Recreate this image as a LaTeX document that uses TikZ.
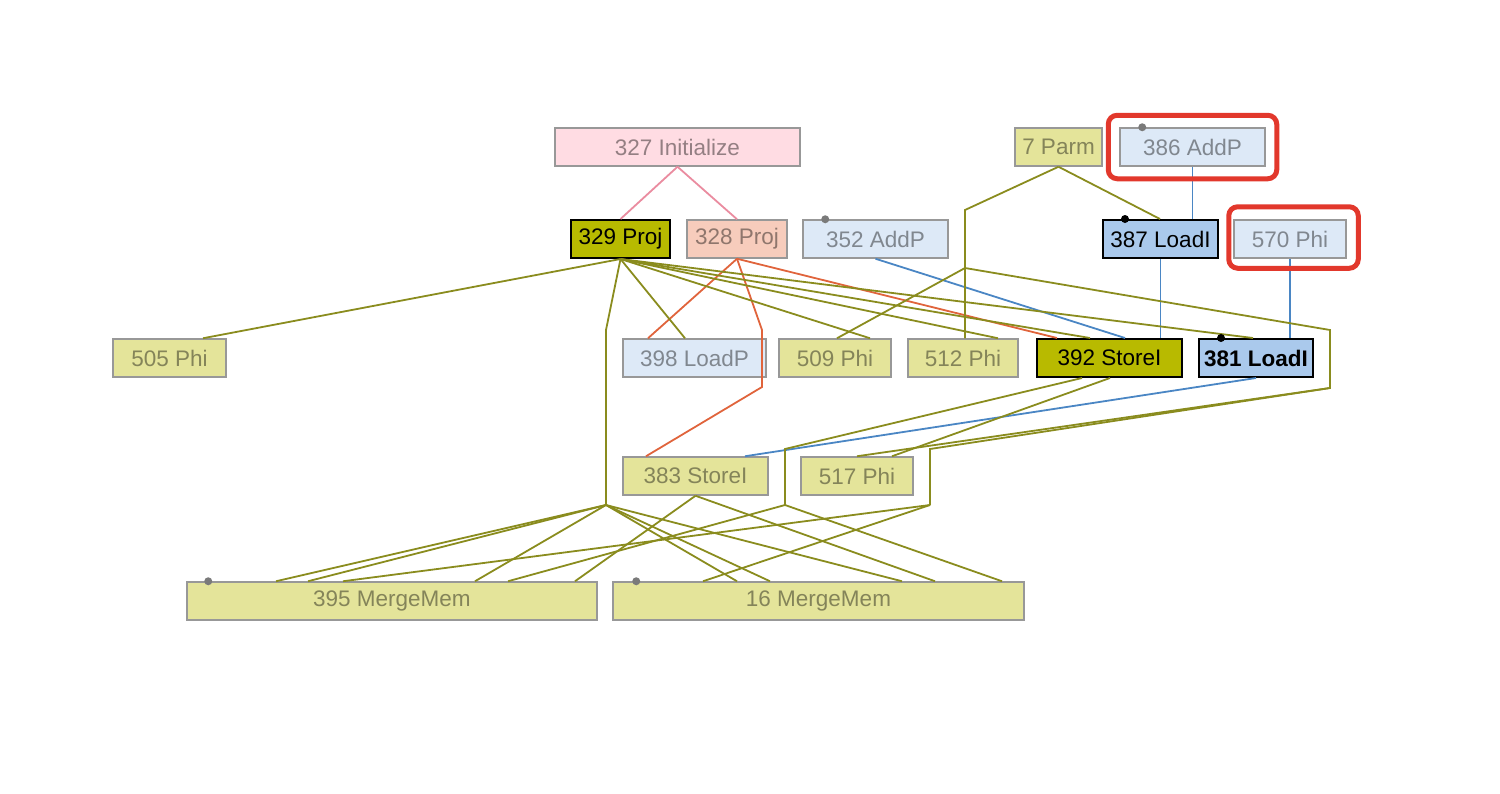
\documentclass[tikz,border=0pt]{standalone}
\usepackage{fontspec}
\setmainfont{Liberation Sans}
\usetikzlibrary{fit}
\definecolor{olivefill}{RGB}{228,228,154}
\definecolor{olivedark}{RGB}{184,186,0}
\definecolor{pinkfill}{RGB}{255,220,227}
\definecolor{salmonfill}{RGB}{247,204,188}
\definecolor{bluefill}{RGB}{221,233,247}
\definecolor{bluemid}{RGB}{170,201,236}
\definecolor{boxgray}{RGB}{152,152,152}
\definecolor{edgeolive}{RGB}{138,140,30}
\definecolor{edgepink}{RGB}{234,140,160}
\definecolor{edgeblue}{RGB}{74,134,196}
\definecolor{edgered}{RGB}{224,100,60}
\definecolor{hired}{RGB}{226,56,44}

\begin{document}
\begin{tikzpicture}[x=1pt, y=-1pt,
  nd/.style={draw=boxgray, line width=1.5pt, minimum height=38pt, inner sep=0pt, text=black, text opacity=0.42, font=\fontsize{22.5}{26}\selectfont},
  ol/.style={nd, fill=olivefill},
  bl/.style={nd, fill=bluefill},
  sel/.style={draw=black, line width=2pt, text opacity=1},
  oe/.style={draw=edgeolive, line width=1.8pt},
  be/.style={draw=edgeblue, line width=1.8pt},
  re/.style={draw=edgered, line width=1.8pt},
  pe/.style={draw=edgepink, line width=1.8pt},
  hl/.style={draw=hired, line width=5pt, rounded corners=9pt},
  dot/.style={fill=boxgray!80!black}]
	\useasboundingbox (0,0) rectangle (1500,793);
	% top row
	\node[nd, fill=pinkfill, minimum width=245pt] (init) at (677.5,147) {327 Initialize};
	\node[ol, minimum width=87pt] (parm) at (1058.5,147) {7 Parm};
	\node[bl, minimum width=145pt] (n386) at (1192.5,147) {386 AddP};
	% second row
	\node[nd, sel, fill=olivedark, minimum width=99pt] (n329) at (620.5,239) {329 Proj};
	\node[nd, fill=salmonfill, minimum width=100pt] (n328) at (737,239) {328 Proj};
	\node[bl, minimum width=145pt] (n352) at (875.5,239) {352 AddP};
	\node[nd, sel, fill=bluemid, minimum width=115pt] (n387) at (1160.5,239) {387 LoadI};
	\node[bl, minimum width=112pt] (n570) at (1290,239) {570 Phi};
	% third row
	\node[ol, minimum width=113pt] (n505) at (169.5,358) {505 Phi};
	\node[bl, minimum width=143pt] (n398) at (694.5,358) {398 LoadP};
	\node[ol, minimum width=112pt] (n509) at (835,358) {509 Phi};
	\node[ol, minimum width=110pt] (n512) at (963,358) {512 Phi};
	\node[nd, sel, fill=olivedark, minimum width=145pt] (n392) at (1109.5,358) {392 StoreI};
	\node[nd, sel, fill=bluemid, minimum width=114pt, font=\fontsize{22.5}{26}\selectfont\bfseries] (n381) at (1256,358) {381 LoadI};
	% fourth row
	\node[ol, minimum width=145pt] (n383) at (695.5,476) {383 StoreI};
	\node[ol, minimum width=112pt] (n517) at (857,476) {517 Phi};
	% bottom row
	\node[ol, minimum width=410pt] (n395) at (392,601) {395 MergeMem};
	\node[ol, minimum width=411pt] (n16) at (818.5,601) {16 MergeMem};
	% bend points
	\coordinate (pa) at (606,330);
	\coordinate (pb) at (606,505);
	\coordinate (qa) at (965,210);
	\coordinate (qb) at (965,268);
	\coordinate (qc) at (1330,330);
	\coordinate (qd) at (1330,388);
	\coordinate (qe) at (930,449);
	\coordinate (qf) at (930,505);
	\coordinate (ta) at (785,449);
	\coordinate (tb) at (785,505);
	% edges
	\draw[pe] (init.south) -- (n329.north);
	\draw[pe] (init.south) -- (n328.north);
	\draw[be] (n386.south) -- (n386.south |- n387.north);
	\draw[be] (n570.south) -- (n570.south |- n381.north);
	\draw[be] (n387.south) -- (n387.south |- n392.north);
	\draw[be] (n352.south) -- (n392.north -| 1125,0);
	\draw[be] (n381.south) -- (n383.north -| 745,0);
	\draw[re] (n328.south) -- (n398.north -| 648,0);
	\draw[re] (n328.south) -- (762,330) -- (762,387) -- (n383.north -| 646,0);
	\draw[re] (n328.south) -- (n392.north -| 1057,0);
	\draw[oe] (n329.south) -- (n505.north -| 203,0);
	\draw[oe] (n329.south) -- (n398.north -| 685,0);
	\draw[oe] (n329.south) -- (n509.north -| 870,0);
	\draw[oe] (n329.south) -- (n512.north -| 998,0);
	\draw[oe] (n329.south) -- (n392.north -| 1090,0);
	\draw[oe] (n329.south) -- (n381.north -| 1253,0);
	\draw[oe] (n329.south) -- (pa) -- (pb);
	\foreach \x in {276,308,475} \draw[oe] (pb) -- (n395.north -| \x,0);
	\foreach \x in {737,770,902} \draw[oe] (pb) -- (n16.north -| \x,0);
	\draw[oe] (parm.south) -- (n387.north -| 1160,0);
	\draw[oe] (parm.south) -- (qa) -- (qb) -- (n512.north -| qb);
	\draw[oe] (qb) -- (n509.north -| 837,0);
	\draw[oe] (qb) -- (qc) -- (qd) -- (n517.north -| 857,0);
	\draw[oe] (qd) -- (qe) -- (qf);
	\draw[oe] (qf) -- (n395.north -| 343,0);
	\draw[oe] (qf) -- (n16.north -| 703,0);
	\draw[oe] (n392.south -| 1082,0) -- (ta) -- (tb);
	\draw[oe] (tb) -- (n395.north -| 508,0);
	\draw[oe] (tb) -- (n16.north -| 1002,0);
	\draw[oe] (n392.south -| 1110,0) -- (n517.north -| 892,0);
	\draw[oe] (n383.south) -- (n395.north -| 575,0);
	\draw[oe] (n383.south) -- (n16.north -| 935,0);
	% slot dots
	\fill[dot] ([xshift=23pt]n352.north west) circle (4pt);
	\fill[dot] ([xshift=23pt]n386.north west) circle (4pt);
	\fill[dot] ([xshift=22pt]n395.north west) circle (4pt);
	\fill[dot] ([xshift=24pt]n16.north west) circle (4pt);
	\fill[black] ([xshift=23pt]n387.north west) circle (4pt);
	\fill[black] ([xshift=23pt]n381.north west) circle (4pt);
	% highlights
	\node[hl, fit=(n386), inner xsep=11pt, inner ysep=12pt] (h386) {};
	\node[hl, fit=(n570), inner xsep=8pt, inner ysep=11pt, xshift=3.5pt, yshift=1.5pt] (h570) {};
\end{tikzpicture}
\end{document}
